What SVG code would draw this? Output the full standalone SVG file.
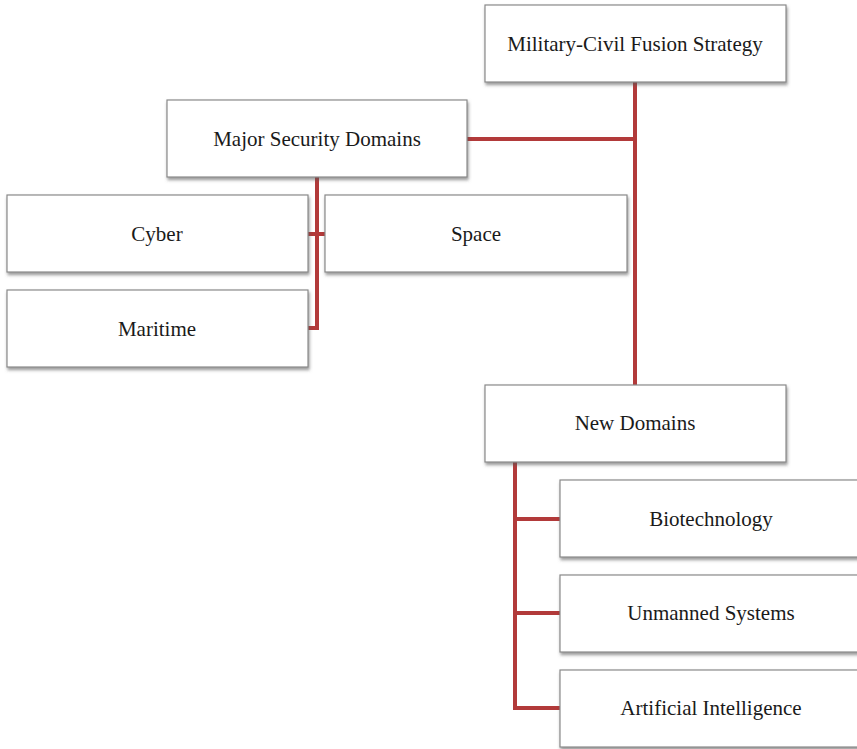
<svg xmlns="http://www.w3.org/2000/svg" width="857" height="749" viewBox="0 0 857 749">
<defs>
<filter id="sh" x="-5%" y="-10%" width="112%" height="130%">
<feDropShadow dx="1" dy="2.5" stdDeviation="1.5" flood-color="#555" flood-opacity="0.6"/>
</filter>
<style>
.box{fill:#fff;stroke:#8a8a8a;stroke-width:1.2;filter:url(#sh)}
.lbl{font-family:"Liberation Serif","Times New Roman",serif;font-size:21px;fill:#1a1a1a;text-anchor:middle}
.con{fill:none;stroke:#b23a3a;stroke-width:4;stroke-linejoin:miter}
</style>
</defs>
<rect width="857" height="749" fill="#fff"/>
<g id="connectors">
<path class="con" d="M635,82 V385"/>
<path class="con" d="M467,139 H635"/>
<path class="con" d="M317,177 V328 H308"/>
<path class="con" d="M308,234 H325"/>
<path class="con" d="M515,462 V708 H560"/>
<path class="con" d="M515,519 H560"/>
<path class="con" d="M515,613 H560"/>
</g>
<g id="military-civil-fusion-strategy">
<rect class="box" x="485" y="5" width="301" height="77"/>
<text class="lbl" x="635" y="51">Military-Civil Fusion Strategy</text>
</g>
<g id="major-security-domains">
<rect class="box" x="167" y="100" width="300" height="77"/>
<text class="lbl" x="317" y="146">Major Security Domains</text>
</g>
<g id="cyber">
<rect class="box" x="7" y="195" width="301" height="77"/>
<text class="lbl" x="157" y="241">Cyber</text>
</g>
<g id="space">
<rect class="box" x="325" y="195" width="302" height="77"/>
<text class="lbl" x="476" y="241">Space</text>
</g>
<g id="maritime">
<rect class="box" x="7" y="290" width="301" height="77"/>
<text class="lbl" x="157" y="336">Maritime</text>
</g>
<g id="new-domains">
<rect class="box" x="485" y="385" width="301" height="77"/>
<text class="lbl" x="635" y="430">New Domains</text>
</g>
<g id="biotechnology">
<rect class="box" x="560" y="480" width="302" height="77"/>
<text class="lbl" x="711" y="526">Biotechnology</text>
</g>
<g id="unmanned-systems">
<rect class="box" x="560" y="575" width="302" height="77"/>
<text class="lbl" x="711" y="620">Unmanned Systems</text>
</g>
<g id="artificial-intelligence">
<rect class="box" x="560" y="670" width="302" height="77"/>
<text class="lbl" x="711" y="715">Artificial Intelligence</text>
</g>
</svg>
